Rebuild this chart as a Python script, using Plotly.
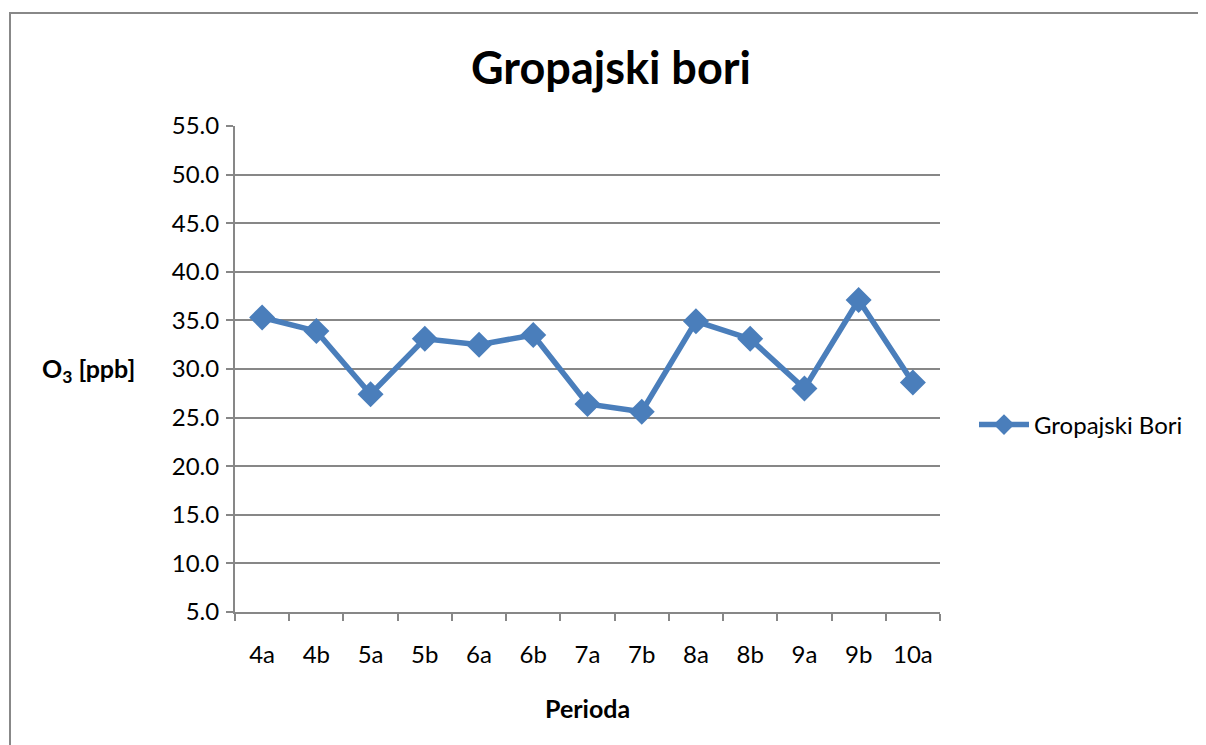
import plotly.graph_objects as go

categories = ["4a", "4b", "5a", "5b", "6a", "6b", "7a", "7b", "8a", "8b", "9a", "9b", "10a"]
o3_values = [35.3, 33.9, 27.4, 33.1, 32.5, 33.5, 26.4, 25.6, 34.9, 33.1, 28.0, 37.1, 28.6]
series_name = "Gropajski Bori"

FONT = "Lato, Liberation Sans, sans-serif"
GRID = "#878787"
BLUE = "#4a7ebb"

OFF = 8  # page body margin
W, H = 1206 - OFF, 745 - OFF
# plot area in reference pixel coordinates
L, R, T, B = 235 - OFF, 940 - OFF, 126 - OFF, 612 - OFF

fig = go.Figure()
fig.add_trace(go.Scatter(
    x=categories, y=o3_values, name=series_name, mode="lines+markers",
    line=dict(color=BLUE, width=5.5),
    marker=dict(symbol="diamond", size=20, color=BLUE),
))

def px_x(p):
    return (p - OFF - L) / (R - L)

def px_y(p):
    return (B - (p - OFF)) / (B - T)

fig.update_layout(
    width=W, height=H,
    margin=dict(l=L, r=W - R, t=T, b=H - B),
    paper_bgcolor="white", plot_bgcolor="white",
    font=dict(family=FONT, size=24, color="black"),
    showlegend=True,
    legend=dict(x=px_x(974), y=px_y(425), xanchor="left", yanchor="middle",
                font=dict(size=24), itemwidth=50, bgcolor="rgba(0,0,0,0)"),
    xaxis=dict(
        type="category", showgrid=False, showline=True, linecolor=GRID, linewidth=2,
        ticks="outside", ticklen=7, tickcolor=GRID, tickwidth=1.5,
        tickson="boundaries", ticklabelstandoff=20,
        range=[-0.5, len(categories) - 0.5],
        tickfont=dict(size=24),
    ),
    yaxis=dict(
        range=[5, 55], dtick=5, tick0=5, tickformat=".1f",
        showgrid=True, gridcolor=GRID, gridwidth=1.5,
        showline=True, linecolor=GRID, linewidth=2,
        ticks="outside", ticklen=7, tickcolor=GRID, tickwidth=1.5,
        ticklabelstandoff=2, zeroline=False, tickfont=dict(size=24),
    ),
    annotations=[
        dict(text="<b>Gropajski bori</b>", xref="paper", yref="paper",
             x=px_x(611), y=px_y(67), xanchor="center", yanchor="middle",
             showarrow=False, font=dict(size=45, family=FONT)),
        dict(text="<b>O<sub>3</sub> [ppb]</b>", xref="paper", yref="paper",
             x=px_x(88), y=px_y(370), xanchor="center", yanchor="middle",
             showarrow=False, font=dict(size=25, family=FONT)),
        dict(text="<b>Perioda</b>", xref="paper", yref="paper",
             x=px_x(587), y=px_y(708), xanchor="center", yanchor="middle",
             showarrow=False, font=dict(size=25, family=FONT)),
    ],
    shapes=[
        dict(type="rect", xref="paper", yref="paper",
             x0=px_x(10), x1=px_x(1230), y0=px_y(800), y1=px_y(13),
             line=dict(color="#888888", width=2), layer="below"),
    ],
)

fig.write_html("out.html")
